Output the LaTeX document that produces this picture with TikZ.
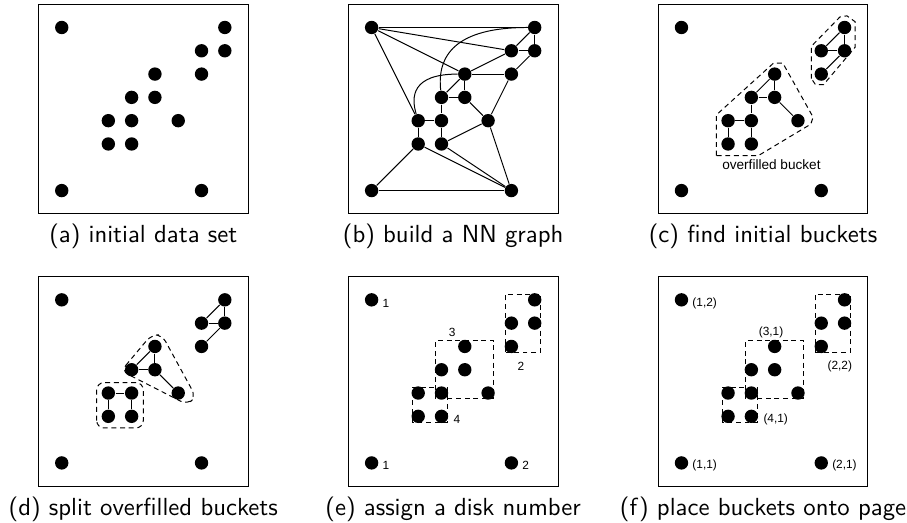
\documentclass[tikz,border=0pt]{standalone}
\usepackage{fontspec}
\newfontfamily\lblfont{Liberation Sans}

% the 15 points of the data set, named <panel><letter>
\newcommand{\drawpoints}[1]{%
  \foreach \n/\x/\y in {A/0/7,B/7/7,C/6/6,D/7/6,E/4/5,F/6/5,G/3/4,H/4/4,I/2/3,J/3/3,K/5/3,L/2/2,M/3/2,N/0/0,O/6/0}
    \node[datapt] (#1\n) at (\x,\y) {};
}

\begin{document}
\begin{tikzpicture}[x=0.331cm, y=0.331cm,
  datapt/.style={circle, fill=black, inner sep=0pt, minimum size=0.19cm},
  bucket/.style={dash pattern=on 2pt off 1.5pt},
  subcap/.style={font=\sffamily, anchor=base},
  num/.style={font=\lblfont\fontsize{4.8}{5}\selectfont, anchor=west, inner sep=0pt}]
\useasboundingbox (-2.65,-14.26) rectangle (36.28,8.18);

% (a) initial data set
\begin{scope}
\draw (-1,-1) rectangle (8,8);
\drawpoints{a}
\node[subcap] (capa) at (3.5,-2.25) {(a) initial data set};
\end{scope}

% (b) NN graph
\begin{scope}[shift={(13.3,0)}]
\draw (-1,-1) rectangle (8,8);
\drawpoints{b}
\foreach \u/\v in {A/B,A/C,A/E,A/I,B/C,B/D,C/D,C/E,D/F,E/F,E/G,E/H,G/H,G/J,H/K,F/K,I/J,I/L,J/M,M/K,L/N,L/O,M/O,K/O,N/O}
    \draw (b\u) -- (b\v);
\draw (bB) .. controls (3.6,7) and (2.8,5.8) .. (bG);
\draw (bE) .. controls (1.7,5) and (1.7,4) .. (bI);
\node[subcap] (capb) at (3.5,-2.25) {(b) build a NN graph};
\end{scope}

% (c) initial buckets
\begin{scope}[shift={(26.6,0)}]
\draw (-1,-1) rectangle (8,8);
\drawpoints{c}
\foreach \u/\v in {B/C,B/D,C/D,D/F,E/G,E/H,G/H,G/J,H/K,I/J,I/L,J/M}
    \draw (c\u) -- (c\v);
\draw[bucket] (1.5,1.5) -- (1.5,3.25) -- (3.95,5.47) -- (4.35,5.47) -- (5.65,3.15) -- (5.55,2.85) -- (3.3,1.5) -- cycle;
\draw[bucket] (5.58,4.8) -- (5.58,6.2) -- (6.8,7.45) -- (7.1,7.5) -- (7.45,7.25) -- (7.45,6.15) -- (6.1,4.55) -- (5.75,4.55) -- cycle;
\node[font=\lblfont\fontsize{5.5}{6}\selectfont] (ovf) at (3.86,1.13) {overfilled bucket};
\node[subcap] (capc) at (3.5,-2.25) {(c) find initial buckets};
\end{scope}

% (d) split buckets
\begin{scope}[shift={(0,-11.69)}]
\draw (-1,-1) rectangle (8,8);
\drawpoints{d}
\foreach \u/\v in {B/C,B/D,C/D,D/F,E/G,E/H,G/H,H/K,I/J,I/L,J/M}
    \draw (d\u) -- (d\v);
\draw[bucket, rounded corners=3pt] (2.55,3.95) -- (3.85,5.5) -- (4.3,5.5) -- (5.75,2.85) -- (5.4,2.5) -- cycle;
\draw[bucket, rounded corners=3pt] (1.5,1.5) rectangle (3.5,3.45);
\node[subcap] (capd) at (3.5,-2.25) {(d) split overfilled buckets};
\end{scope}

% (e) disk numbers
\begin{scope}[shift={(13.3,-11.69)}]
\draw (-1,-1) rectangle (8,8);
\draw[bucket] (5.75,4.75) rectangle (7.25,7.25);
\draw[bucket] (2.75,2.75) rectangle (5.25,5.25);
\draw[bucket] (1.75,1.75) rectangle (3.25,3.25);
\drawpoints{e}
\node[num] (e1) at (0.45,6.86) {1};
\node[num] (e2) at (0.45,-0.12) {1};
\node[num] (e3) at (6.45,-0.12) {2};
\node[num] (e4) at (3.3,5.61) {3};
\node[num] (e5) at (6.25,4.14) {2};
\node[num] (e6) at (3.5,1.85) {4};
\node[subcap] (cape) at (3.5,-2.25) {(e) assign a disk number};
\end{scope}

% (f) buckets on pages
\begin{scope}[shift={(26.6,-11.69)}]
\draw (-1,-1) rectangle (8,8);
\draw[bucket] (5.75,4.75) rectangle (7.25,7.25);
\draw[bucket] (2.75,2.75) rectangle (5.25,5.25);
\draw[bucket] (1.75,1.75) rectangle (3.25,3.25);
\drawpoints{f}
\node[num] (f1) at (0.45,6.86) {(1,2)};
\node[num] (f2) at (0.45,-0.12) {(1,1)};
\node[num] (f3) at (6.45,-0.12) {(2,1)};
\node[num] (f4) at (3.3,5.61) {(3,1)};
\node[num] (f5) at (6.25,4.14) {(2,2)};
\node[num] (f6) at (3.5,1.85) {(4,1)};
\node[subcap] (capf) at (3.5,-2.25) {(f) place buckets onto page};
\end{scope}
\end{tikzpicture}
\end{document}
